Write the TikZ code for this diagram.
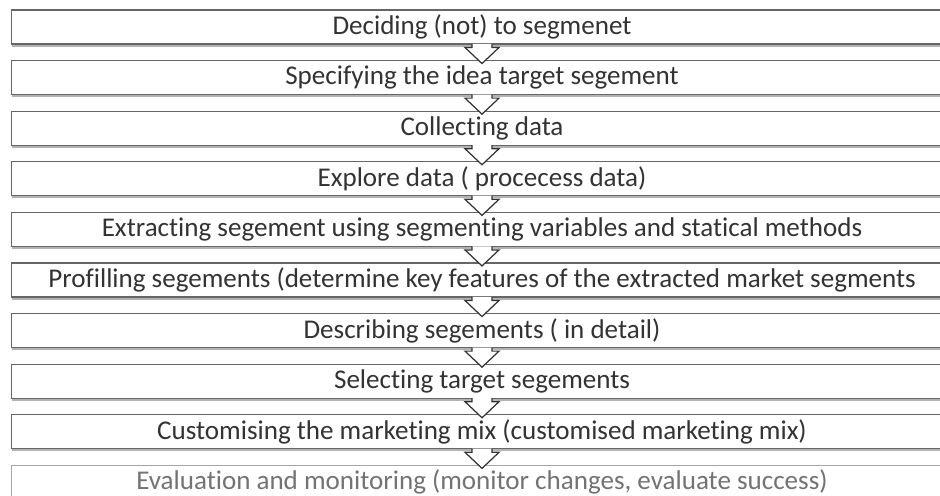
\documentclass[tikz,border=0pt]{standalone}
\usepackage{fontspec}
\setmainfont[Ligatures=NoCommon]{Carlito}
\usetikzlibrary{calc,shadows}

\begin{document}
\begin{tikzpicture}[x=0.02cm, y=0.02cm]
	\tikzstyle{every node} = [rectangle, draw = black!60, fill = white, line width = 0.6pt, minimum width = 18.84cm, minimum height = 0.68cm, inner sep = 0pt, text = black!80, font = \fontsize{15.4}{18}\selectfont, drop shadow = {shadow xshift = 0.4pt, shadow yshift = -1.5pt, opacity = 0.6}]
	\tikzstyle{arrowshape} = [draw = black!80, fill = white, line width = 0.7pt, line join = miter]
	\useasboundingbox (0,0) rectangle (940,-496);
	\clip (0,0) rectangle (940,-496);
\node (1) at (482, -27) {Deciding (not) to segmenet};
\node (2) at (482, -77.6) {Specifying the idea target segement};
\node (3) at (482, -128.2) {Collecting data};
\node (4) at (482, -178.8) {Explore data ( procecess data)};
\node (5) at (482, -229.4) {Extracting segement using segmenting variables and statical methods};
\node (6) at (482, -280) {Profilling segements (determine key features of the extracted market segments};
\node (7) at (482, -330.6) {Describing segements ( in detail)};
\node (8) at (482, -381.2) {Selecting target segements};
\node (9) at (482, -431.8) {Customising the marketing mix (customised marketing mix)};
\node[draw = black!35, text = black!55] (10) at (482, -482.4) {Evaluation and monitoring (monitor changes, evaluate success)};
	% chevrons between the steps
	\foreach \i [evaluate = \i as \j using int(\i+1)] in {1,...,9}
		\path[arrowshape] ($(\i.south)+(-10,0.6)$) -- ++(0,-3.6) -- ++(-7,0) -- ($(\j.north)+(0,-3.5)$) -- ($(\i.south)+(17,-3)$) -- ++(-7,0) -- ++(0,3.6);
\end{tikzpicture}
\end{document}
